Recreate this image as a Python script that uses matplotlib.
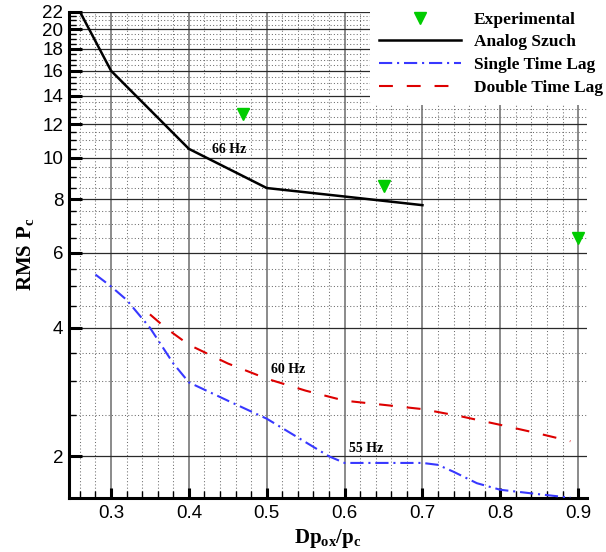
import matplotlib
matplotlib.use('Agg')
import matplotlib.pyplot as plt
from matplotlib.ticker import FixedLocator, FuncFormatter, NullFormatter

# ---- data -------------------------------------------------------------
exp_x = [0.47, 0.65, 0.90]
exp_y = [12.7, 8.58, 6.5]

szuch_x = [0.26, 0.30, 0.40, 0.50, 0.60, 0.70]
szuch_y = [22.0, 16.0, 10.5, 8.5, 8.12, 7.75]

single_x = [0.28, 0.30, 0.32, 0.35, 0.38, 0.40, 0.45, 0.50, 0.58, 0.60,
            0.70, 0.72, 0.74, 0.77, 0.80, 0.85, 0.89]
single_y = [5.33, 5.0, 4.65, 4.0, 3.3, 2.98, 2.70, 2.45, 2.0, 1.93,
            1.93, 1.91, 1.84, 1.73, 1.67, 1.63, 1.60]

double_x = [0.35, 0.37, 0.40, 0.45, 0.50, 0.55, 0.60, 0.65, 0.70, 0.75,
            0.80, 0.85, 0.89]
double_y = [4.3, 4.0, 3.65, 3.3, 3.04, 2.85, 2.70, 2.64, 2.58, 2.48,
            2.37, 2.26, 2.17]

freq_labels = ['66 Hz', '60 Hz', '55 Hz']
freq_x = [0.452, 0.528, 0.628]
freq_y = [10.44, 3.19, 2.09]

x_ticks = [0.3, 0.4, 0.5, 0.6, 0.7, 0.8, 0.9]
x_minor = [0.26, 0.28, 0.32, 0.34, 0.36, 0.38, 0.42, 0.44, 0.46, 0.48,
           0.52, 0.54, 0.56, 0.58, 0.62, 0.64, 0.66, 0.68, 0.72, 0.74,
           0.76, 0.78, 0.82, 0.84, 0.86, 0.88]
y_ticks = [2, 4, 6, 8, 10, 12, 14, 16, 18, 20, 22]
y_minor = [v / 2 for v in range(5, 44) if v % 4 != 0]

# ---- style ------------------------------------------------------------
plt.rcParams['lines.scale_dashes'] = False
plt.rcParams['mathtext.fontset'] = 'custom'
plt.rcParams['mathtext.rm'] = 'Liberation Serif:bold'
plt.rcParams['mathtext.it'] = 'Liberation Serif:bold'
plt.rcParams['mathtext.bf'] = 'Liberation Serif:bold'

serif_bold = dict(family='Liberation Serif', weight='bold')

fig = plt.figure(figsize=(6.06, 5.52), dpi=100)
fig.patch.set_facecolor('white')
ax = fig.add_axes([69 / 606, 1 - 497.7 / 552, (586.7 - 69) / 606, (497.7 - 11.7) / 552])

ax.set_yscale('log')
ax.set_xlim(0.246, 0.911)
ax.set_ylim(1.6, 22)

ax.xaxis.set_major_locator(FixedLocator(x_ticks))
ax.xaxis.set_minor_locator(FixedLocator(x_minor))
ax.xaxis.set_major_formatter(FuncFormatter(lambda v, p: f'{v:g}'))
ax.yaxis.set_major_locator(FixedLocator(y_ticks))
ax.yaxis.set_minor_locator(FixedLocator(y_minor))
ax.yaxis.set_major_formatter(FuncFormatter(lambda v, p: f'{v:g}'))
ax.yaxis.set_minor_formatter(NullFormatter())

ax.grid(which='major', axis='x', color='#8a8a8a', lw=1.4, ls='-')
ax.grid(which='major', axis='y', color='#2a2a2a', lw=0.9, ls='-')
ax.grid(which='minor', color='#6e6e6e', lw=0.75, ls=(0, (0.75, 1.6)))
ax.set_axisbelow(True)

for side in ('top', 'right'):
    ax.spines[side].set_visible(False)
for side in ('left', 'bottom'):
    ax.spines[side].set_linewidth(2.2)

ax.tick_params(axis='y', which='major', direction='in', length=9, width=2.2, pad=4)
ax.tick_params(axis='x', which='major', direction='in', length=7, width=2.2, pad=5)
ax.tick_params(which='minor', direction='in', length=5, width=1.0)
for lab in ax.get_xticklabels() + ax.get_yticklabels():
    lab.set_family('Liberation Sans')
    lab.set_fontsize(13.5)

# ---- series -----------------------------------------------------------
h_exp, = ax.plot(exp_x, exp_y, ls='none', marker='v', ms=8, color='#00cc00',
                 mec='#00cc00', label='Experimental', zorder=5)
h_sz, = ax.plot(szuch_x, szuch_y, color='black', lw=1.8, label='Analog Szuch', zorder=4)
h_st, = ax.plot(single_x, single_y, color='#3838ff', lw=1.5,
                dashes=(9.5, 3.5, 1.5, 3.5), label='Single Time Lag', zorder=4)
h_dt, = ax.plot(double_x, double_y, color='#dd0000', lw=1.5,
                dashes=(10, 10), label='Double Time Lag', zorder=4)

for t, x, y in zip(freq_labels, freq_x, freq_y):
    ax.text(x, y, t, ha='center', va='center', fontsize=10, **serif_bold)

ax.set_xlabel(r'$\mathrm{Dp_{ox}/p_c}$', fontsize=15, labelpad=4)
ax.set_ylabel(r'$\mathrm{RMS\ P_c}$', fontsize=15, labelpad=5)

leg = ax.legend(handles=[h_exp, h_sz, h_st, h_dt], loc='upper right',
                bbox_to_anchor=(1.011, 0.996), bbox_transform=fig.transFigure,
                frameon=True, facecolor='white', edgecolor='none', framealpha=1,
                handlelength=4.7, handletextpad=0.75, labelspacing=0.37,
                borderpad=0.55, borderaxespad=0.0,
                prop=dict(family='Liberation Serif', weight='bold', size=12.5))
leg.set_zorder(10)

fig.savefig('out.png', dpi=100)
